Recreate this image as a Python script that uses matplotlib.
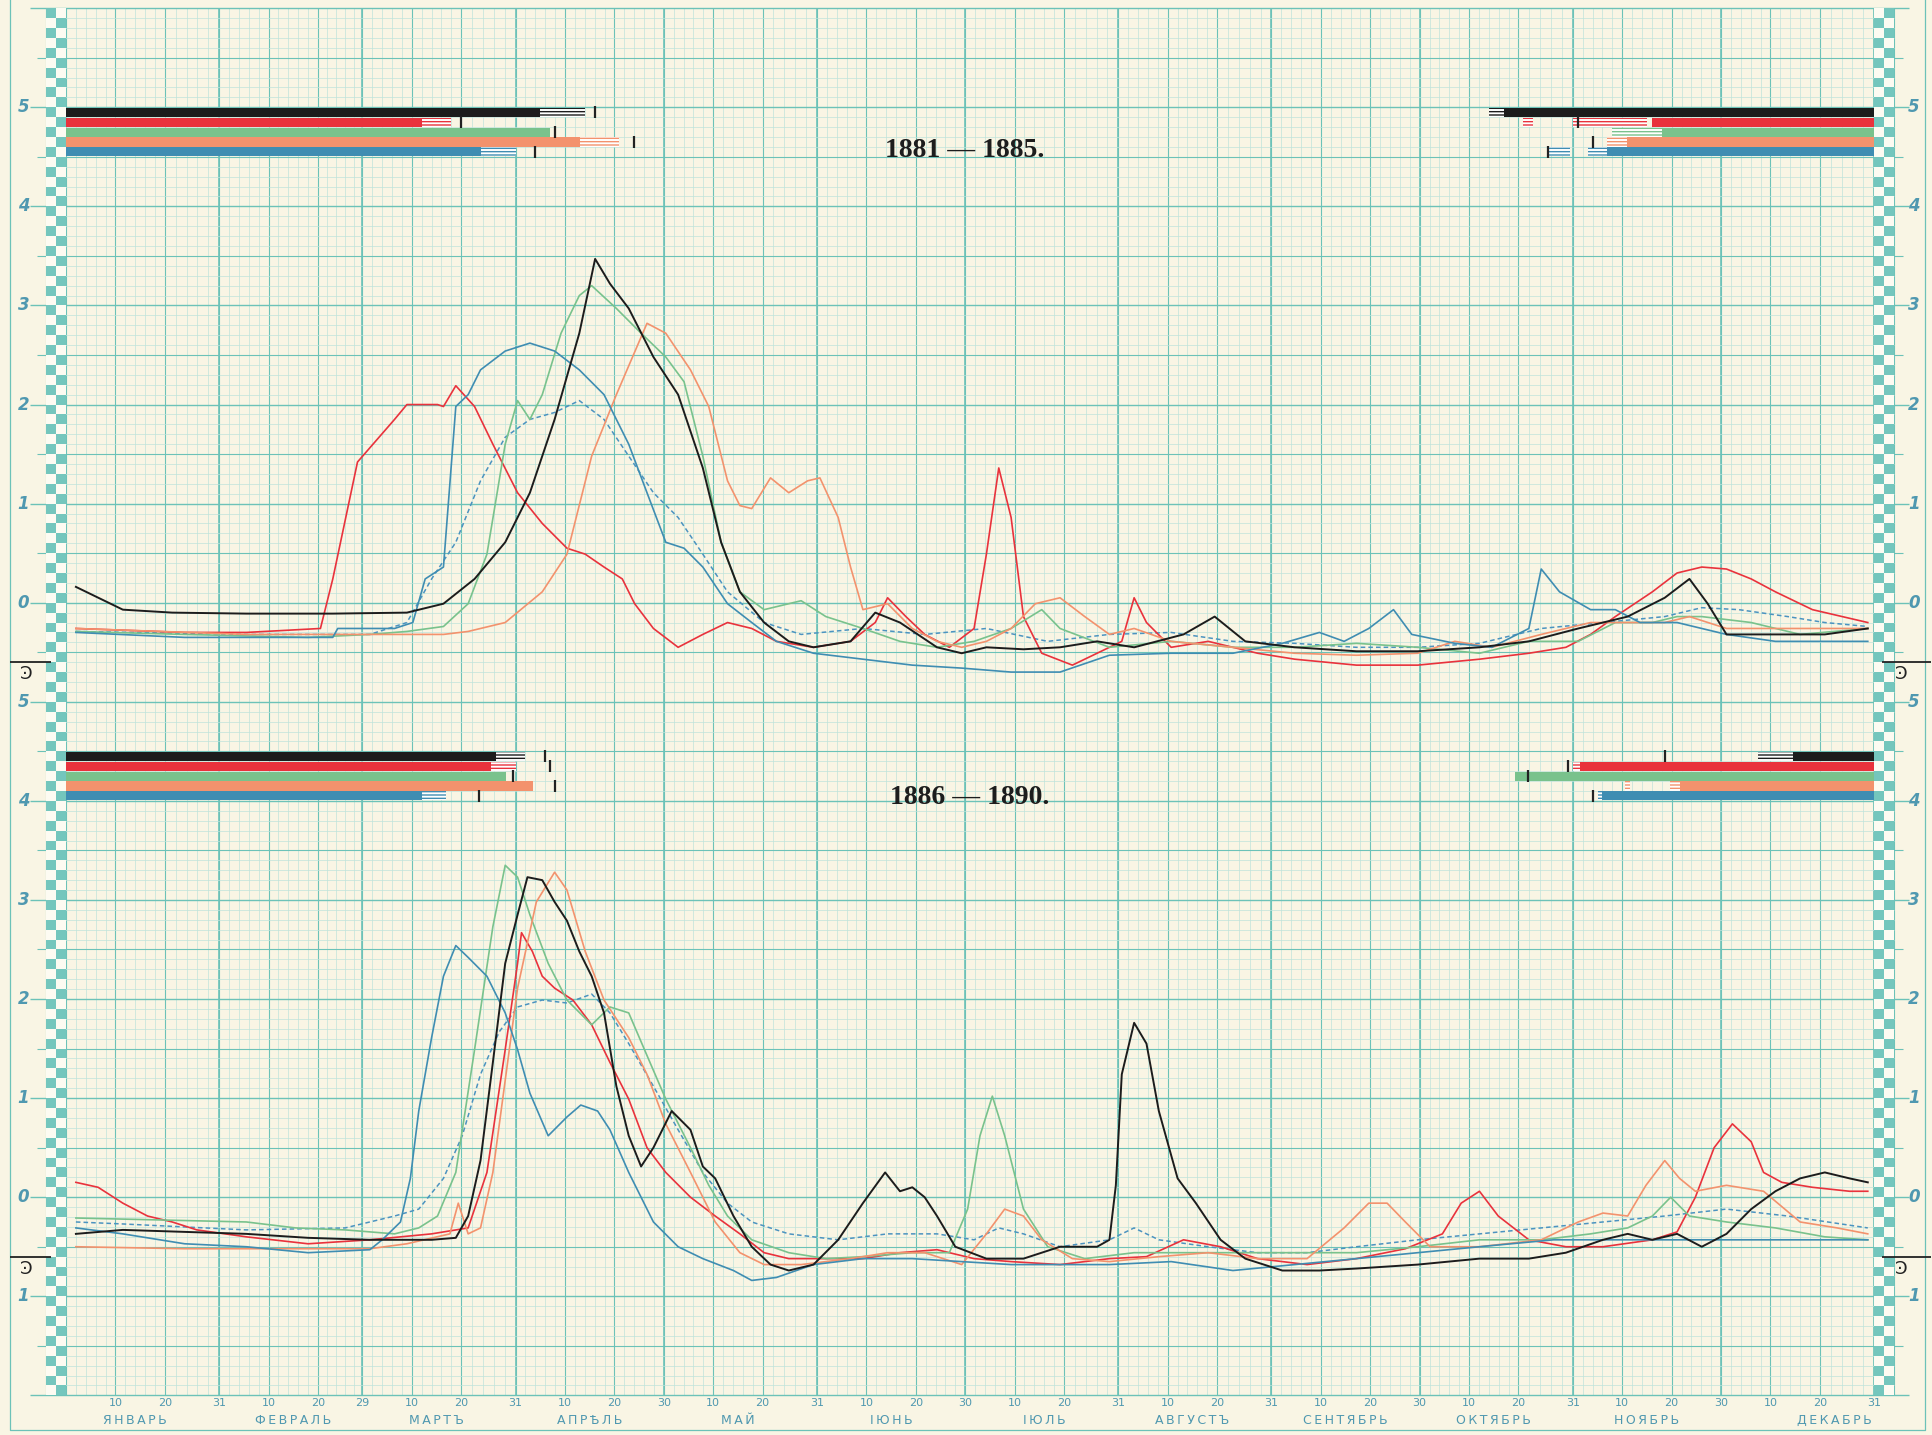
import numpy as np
import matplotlib.pyplot as plt
from matplotlib.colors import ListedColormap

# ==========================================================
# Data  (day of year, value) -- upper panel 1881-1885,
# lower panel 1886-1890 (lower panel is drawn 6 units down)
# ==========================================================

month_names = ["ЯНВАРЬ", "ФЕВРАЛЬ", "МАРТЪ", "АПРѢЛЬ", "МАЙ", "ІЮНЬ",
               "ІЮЛЬ", "АВГУСТЪ", "СЕНТЯБРЬ", "ОКТЯБРЬ", "НОЯБРЬ", "ДЕКАБРЬ"]
month_days = [31, 29, 31, 30, 31, 30, 31, 31, 30, 31, 30, 31]

title_top = "1881 — 1885."
title_bottom = "1886 — 1890."

# ---- upper panel ----
top_black_day = [2, 11.5, 21.5, 36.5, 54, 69, 76.4, 82.7, 88.9, 93.9, 98.9, 103.9, 107.1, 110.1,
                 113.9, 118.9, 123.9, 128.9, 132.6, 136.4, 141.3, 146.3, 151.3, 158.8, 163.8,
                 168.8, 176.3, 181.3, 186.3, 193.8, 201.2, 208.7, 216.2, 226.2, 232.5, 238.7,
                 248.7, 261.2, 273.6, 286.1, 296.1, 306.1, 316.1, 323.6, 328.6, 332.3, 336.1,
                 346, 356, 364.7]
top_black_val = [0.16, -0.07, -0.10, -0.11, -0.11, -0.10, -0.01, 0.24, 0.61, 1.11, 1.85, 2.72,
                 3.47, 3.22, 2.97, 2.48, 2.10, 1.36, 0.61, 0.11, -0.20, -0.39, -0.45, -0.39,
                 -0.10, -0.20, -0.45, -0.51, -0.45, -0.47, -0.45, -0.39, -0.45, -0.32, -0.14,
                 -0.39, -0.45, -0.49, -0.49, -0.45, -0.39, -0.26, -0.14, 0.05, 0.24, -0.01,
                 -0.32, -0.32, -0.32, -0.26]

top_red_day = [2, 24, 36.5, 51.5, 54, 59, 66.5, 69, 75.2, 76.4, 78.9, 82.7, 86.4, 91.4, 96.4,
               101.4, 105.1, 108.9, 112.6, 115.1, 118.9, 123.9, 128.9, 133.9, 138.8, 143.8,
               151.3, 158.8, 163.8, 166.3, 170, 173.8, 178.8, 183.8, 186.3, 188.8, 191.3,
               193.8, 197.5, 203.7, 208.7, 213.7, 216.2, 218.7, 223.7, 231.2, 241.2, 248.7,
               261.2, 273.6, 286.1, 296.1, 303.6, 308.6, 313.6, 321.1, 326.1, 331.1, 336.1,
               341.1, 346, 353.5, 364.7]
top_red_val = [-0.26, -0.30, -0.30, -0.26, 0.24, 1.42, 1.85, 2.00, 2.00, 1.98, 2.19, 1.98, 1.60,
               1.11, 0.80, 0.55, 0.49, 0.36, 0.24, -0.01, -0.26, -0.45, -0.32, -0.20, -0.26,
               -0.39, -0.45, -0.39, -0.20, 0.05, -0.14, -0.32, -0.45, -0.26, 0.49, 1.36, 0.86,
               -0.14, -0.51, -0.63, -0.51, -0.39, 0.05, -0.20, -0.45, -0.39, -0.51, -0.57,
               -0.63, -0.63, -0.57, -0.51, -0.45, -0.32, -0.14, 0.11, 0.30, 0.36, 0.34, 0.24,
               0.11, -0.07, -0.20]

top_green_day = [2, 24, 49, 61.5, 69, 76.4, 81.4, 85.2, 88.9, 91.4, 93.9, 96.4, 100.2, 103.9,
                 106.4, 111.4, 116.4, 121.4, 125.1, 128.9, 132.6, 136.4, 141.3, 148.8, 153.8,
                 161.3, 168.8, 176.3, 183.8, 191.3, 197.5, 201.2, 211.2, 223.7, 236.2, 248.7,
                 261.2, 273.6, 286.1, 296.1, 306.1, 313.6, 321.1, 326.1, 331.1, 341.1, 351,
                 364.7]
top_green_val = [-0.29, -0.32, -0.35, -0.32, -0.29, -0.24, -0.01, 0.49, 1.60, 2.04, 1.85, 2.10,
                 2.72, 3.10, 3.20, 2.97, 2.72, 2.48, 2.23, 1.48, 0.61, 0.11, -0.07, 0.02, -0.14,
                 -0.26, -0.39, -0.45, -0.39, -0.26, -0.07, -0.26, -0.45, -0.39, -0.45, -0.45,
                 -0.41, -0.45, -0.51, -0.39, -0.39, -0.20, -0.20, -0.14, -0.14, -0.20, -0.32,
                 -0.26]

top_orange_day = [2, 36.5, 61.5, 76.4, 81.4, 88.9, 96.4, 101.4, 106.4, 111.4, 117.6, 121.4,
                  126.4, 130.1, 133.9, 136.4, 138.8, 142.6, 146.3, 150.1, 152.6, 156.3, 158.8,
                  161.3, 166.3, 171.3, 176.3, 181.3, 186.3, 191.3, 196.2, 201.2, 206.2, 211.2,
                  216.2, 223.7, 236.2, 248.7, 261.2, 273.6, 281.1, 288.6, 298.6, 308.6, 316.1,
                  323.6, 328.6, 336.1, 346, 356, 364.7]
top_orange_val = [-0.26, -0.32, -0.32, -0.32, -0.29, -0.20, 0.11, 0.49, 1.48, 2.10, 2.82, 2.72,
                  2.35, 1.98, 1.23, 0.98, 0.95, 1.26, 1.11, 1.23, 1.26, 0.86, 0.36, -0.07,
                  -0.01, -0.26, -0.39, -0.45, -0.39, -0.26, -0.01, 0.05, -0.14, -0.32, -0.26,
                  -0.39, -0.45, -0.51, -0.53, -0.51, -0.39, -0.45, -0.32, -0.20, -0.20, -0.20,
                  -0.14, -0.26, -0.26, -0.26, -0.26]

top_blue_day = [2, 24, 54, 55, 61.5, 66.5, 70.2, 72.7, 76.4, 78.9, 81.4, 83.9, 88.9, 93.9,
                98.9, 103.9, 108.9, 113.9, 117.6, 121.4, 125.1, 128.9, 133.9, 138.8, 143.8,
                151.3, 161.3, 171.3, 181.3, 191.3, 201.2, 211.2, 223.7, 236.2, 246.2, 253.7,
                258.7, 263.7, 268.7, 272.4, 281.1, 288.6, 296.1, 298.6, 302.3, 308.6, 313.6,
                318.6, 326.1, 336.1, 346, 364.7]
top_blue_val = [-0.30, -0.35, -0.35, -0.26, -0.26, -0.26, -0.20, 0.24, 0.36, 1.98, 2.10, 2.35,
                2.54, 2.62, 2.54, 2.35, 2.10, 1.60, 1.11, 0.61, 0.55, 0.36, -0.01, -0.20, -0.39,
                -0.51, -0.57, -0.63, -0.66, -0.70, -0.70, -0.53, -0.51, -0.51, -0.41, -0.30,
                -0.39, -0.26, -0.07, -0.32, -0.41, -0.45, -0.26, 0.34, 0.11, -0.07, -0.07,
                -0.20, -0.20, -0.32, -0.39, -0.39]

top_mean_day = [2, 36.5, 61.5, 69, 74, 78.9, 83.9, 88.9, 93.9, 98.9, 103.9, 108.9, 113.9,
                118.9, 123.9, 128.9, 133.9, 141.3, 148.8, 161.3, 173.8, 186.3, 198.7, 211.2,
                223.7, 236.2, 248.7, 261.2, 273.6, 286.1, 298.6, 311.1, 323.6, 331.1, 338.6,
                348.5, 356, 364.7]
top_mean_val = [-0.29, -0.32, -0.32, -0.20, 0.24, 0.61, 1.23, 1.67, 1.85, 1.92, 2.04, 1.85,
                1.48, 1.11, 0.86, 0.49, 0.11, -0.20, -0.32, -0.26, -0.32, -0.26, -0.39, -0.32,
                -0.30, -0.39, -0.41, -0.45, -0.45, -0.41, -0.26, -0.20, -0.14, -0.05, -0.07,
                -0.14, -0.20, -0.24]

# ---- lower panel ----
bot_black_day = [2, 11.5, 36.5, 49, 61.5, 74, 78.9, 81.4, 83.9, 86.4, 88.9, 91.4, 93.4, 96.4,
                 98.9, 101.4, 103.9, 106.4, 108.9, 111.4, 113.9, 116.4, 118.9, 122.6, 126.4,
                 128.9, 131.4, 135.1, 138.8, 142.6, 146.3, 151.3, 156.3, 161.3, 165.8, 168.8,
                 171.3, 173.8, 176.3, 180, 186.3, 193.8, 201.2, 208.7, 211.2, 212.5, 213.7,
                 216.2, 218.7, 221.2, 225, 228.7, 233.7, 238.7, 246.2, 253.7, 261.2, 273.6,
                 286.1, 296.1, 303.6, 311.1, 316.1, 321.1, 326.1, 331.1, 336.1, 341.1, 346,
                 351, 356, 361, 364.7]
bot_black_val = [-0.37, -0.33, -0.37, -0.41, -0.43, -0.43, -0.41, -0.19, 0.37, 1.36, 2.36, 2.85,
                 3.23, 3.20, 2.98, 2.79, 2.48, 2.23, 1.86, 1.12, 0.62, 0.31, 0.50, 0.87, 0.68,
                 0.31, 0.19, -0.19, -0.50, -0.68, -0.74, -0.68, -0.43, -0.06, 0.25, 0.06, 0.10,
                 0.00, -0.19, -0.50, -0.62, -0.62, -0.50, -0.50, -0.43, 0.12, 1.24, 1.76, 1.55,
                 0.87, 0.19, -0.06, -0.43, -0.62, -0.74, -0.74, -0.72, -0.68, -0.62, -0.62,
                 -0.56, -0.43, -0.37, -0.43, -0.37, -0.50, -0.37, -0.12, 0.06, 0.19, 0.25,
                 0.19, 0.15]

bot_red_day = [2, 6.5, 11.5, 16.5, 21.5, 26.5, 36.5, 49, 61.5, 74, 81.4, 85.2, 88.9, 91.4, 92.2,
               94.4, 96.4, 98.9, 102.6, 106.4, 110.1, 113.9, 117.6, 121.4, 126.4, 131.4, 136.4,
               141.3, 146.3, 153.8, 161.3, 168.8, 176.3, 183.8, 191.3, 201.2, 211.2, 218.7,
               226.2, 233.7, 241.2, 251.2, 261.2, 271.1, 278.6, 282.4, 286.1, 289.9, 296.1,
               303.6, 311.1, 321.1, 326.1, 329.8, 333.6, 337.3, 341.1, 343.6, 347.3, 353.5,
               361, 364.7]
bot_red_val = [0.15, 0.10, -0.06, -0.19, -0.25, -0.33, -0.40, -0.47, -0.43, -0.37, -0.31, 0.25,
               1.49, 2.36, 2.67, 2.48, 2.23, 2.11, 1.99, 1.74, 1.36, 0.99, 0.50, 0.25, 0.00,
               -0.19, -0.37, -0.56, -0.62, -0.62, -0.62, -0.56, -0.53, -0.62, -0.65, -0.68,
               -0.62, -0.60, -0.43, -0.50, -0.62, -0.68, -0.62, -0.52, -0.37, -0.06, 0.06,
               -0.19, -0.43, -0.50, -0.50, -0.43, -0.35, 0.00, 0.50, 0.74, 0.56, 0.25, 0.15,
               0.10, 0.06, 0.06]

bot_green_day = [2, 36.5, 46.5, 56.5, 66.5, 71.4, 75.2, 78.9, 82.7, 86.4, 88.9, 91.4, 93.9,
                 97.6, 101.4, 106.4, 110.1, 113.9, 117.6, 121.4, 126.4, 130.1, 133.9, 138.8,
                 146.3, 153.8, 161.3, 171.3, 178.8, 182.5, 185, 187.5, 190, 193.8, 198.7,
                 206.2, 216.2, 226.2, 236.2, 248.7, 261.2, 273.6, 286.1, 298.6, 308.6, 316.1,
                 321.1, 324.8, 328.6, 336.1, 346, 356, 364.7]
bot_green_val = [-0.21, -0.25, -0.31, -0.33, -0.37, -0.31, -0.19, 0.25, 1.49, 2.73, 3.35, 3.23,
                 2.85, 2.36, 1.99, 1.74, 1.92, 1.86, 1.43, 0.99, 0.50, 0.12, -0.19, -0.43,
                 -0.56, -0.62, -0.60, -0.56, -0.56, -0.12, 0.62, 1.02, 0.62, -0.12, -0.50,
                 -0.62, -0.56, -0.56, -0.56, -0.56, -0.56, -0.50, -0.43, -0.43, -0.37, -0.31,
                 -0.19, 0.00, -0.19, -0.25, -0.31, -0.40, -0.43]

bot_orange_day = [2, 24, 61.5, 69, 77.7, 79.4, 81.4, 83.9, 86.4, 91.4, 95.2, 98.9, 101.4, 105.1,
                  108.9, 113.9, 117.6, 121.4, 126.4, 131.4, 136.4, 141.3, 148.8, 158.8, 166.3,
                  173.8, 181.3, 186.3, 190, 193.8, 197.5, 203.7, 211.2, 221.2, 231.2, 241.2,
                  251.2, 258.7, 263.7, 267.4, 271.1, 276.1, 286.1, 298.6, 306.1, 311.1, 316.1,
                  319.8, 323.6, 326.6, 329.8, 336.1, 343.6, 351, 358.5, 364.7]
bot_orange_val = [-0.50, -0.52, -0.52, -0.47, -0.37, -0.06, -0.37, -0.31, 0.25, 2.11, 2.98,
                  3.28, 3.10, 2.48, 1.99, 1.61, 1.24, 0.74, 0.25, -0.25, -0.56, -0.68, -0.68,
                  -0.62, -0.56, -0.56, -0.68, -0.37, -0.12, -0.19, -0.43, -0.62, -0.65, -0.60,
                  -0.56, -0.62, -0.62, -0.31, -0.06, -0.06, -0.25, -0.50, -0.50, -0.43, -0.25,
                  -0.16, -0.19, 0.12, 0.37, 0.19, 0.06, 0.12, 0.06, -0.25, -0.31, -0.37]

bot_blue_day = [2, 11.5, 24, 36.5, 49, 61.5, 64, 67.7, 69.7, 71.4, 74, 76.4, 78.9, 81.4, 85.2,
                88.9, 91.4, 93.9, 97.6, 101.4, 104.2, 107.6, 110.1, 113.9, 118.9, 123.9, 128.9,
                135.1, 138.8, 143.8, 151.3, 161.3, 171.3, 181.3, 191.3, 201.2, 211.2, 223.7,
                236.2, 248.7, 261.2, 273.6, 286.1, 301.1, 326.1, 348.5, 364.7]
bot_blue_val = [-0.31, -0.37, -0.47, -0.50, -0.56, -0.53, -0.43, -0.25, 0.19, 0.87, 1.61, 2.23,
                2.54, 2.42, 2.23, 1.86, 1.49, 1.05, 0.62, 0.81, 0.93, 0.87, 0.68, 0.25, -0.25,
                -0.50, -0.62, -0.74, -0.84, -0.81, -0.68, -0.62, -0.62, -0.65, -0.68, -0.68,
                -0.68, -0.65, -0.74, -0.68, -0.62, -0.56, -0.50, -0.43, -0.43, -0.43, -0.43]

bot_mean_day = [2, 11.5, 36.5, 56.5, 66.5, 71.4, 76.4, 80.2, 83.9, 87.7, 91.4, 96.4, 101.4,
                106.4, 110.1, 113.9, 118.9, 123.9, 128.9, 133.9, 138.8, 146.3, 156.3, 166.3,
                176.3, 183.8, 188.8, 193.8, 201.2, 211.2, 216.2, 221.2, 231.2, 241.2, 251.2,
                261.2, 273.6, 286.1, 298.6, 311.1, 323.6, 336.1, 348.5, 364.7]
bot_mean_val = [-0.25, -0.27, -0.33, -0.31, -0.19, -0.12, 0.19, 0.62, 1.24, 1.67, 1.92, 1.99,
                1.96, 2.05, 1.86, 1.55, 1.12, 0.68, 0.25, -0.06, -0.25, -0.37, -0.43, -0.37,
                -0.37, -0.43, -0.31, -0.37, -0.50, -0.43, -0.31, -0.43, -0.50, -0.56, -0.56,
                -0.50, -0.43, -0.37, -0.31, -0.25, -0.19, -0.12, -0.19, -0.31]

# ---- ice bars (day of year) ----
# spring: solid ice until, drifting ice until, ice-free mark
top_spring_solid = [96, 72, 98, 104, 84]
top_spring_hatch = [105, 78, 98, 112, 91]
top_spring_mark = [107, 80, 99, 115, 95]
# autumn: drifting-ice segments, solid ice from, first-ice mark
top_autumn_hatch = [[(288, 291)], [(295, 297), (305, 320)], [(313, 323)],
                    [(312, 316)], [(300, 304.5), (308, 312)]]
top_autumn_solid = [291, 321, 323, 316, 312]
top_autumn_mark = [None, 306, None, 309, 300]

bot_spring_solid = [87, 86, 89, 94.5, 72]
bot_spring_hatch = [93, 91, 89, 94.5, 77]
bot_spring_mark = [97, 98, 90.5, 99, 83.5]
bot_autumn_hatch = [[(342.5, 349.5)], [(305, 306.5)], [], [(315.5, 316.5), (324.7, 326.6)],
                    [(310, 311)]]
bot_autumn_solid = [349.5, 306.5, 293.3, 326.6, 311]
bot_autumn_mark = [323.7, 304, 296, None, 309]

# ==========================================================
# Style
# ==========================================================

paper = "#f9f5e4"
teal = "#6cc2b8"
teal_light = "#bfe3da"
teal_text = "#4f98b0"
year_colors = ["#1c1c1c", "#e9323c", "#79c28c", "#f3926d", "#3f8db2"]
mean_color = "#4b93c0"

lower_shift = -6.0

fig = plt.figure(figsize=(19.33, 14.35), dpi=100)
fig.patch.set_facecolor(paper)
ax = fig.add_axes([0, 0, 1, 1])
ax.set_facecolor(paper)
ax.set_xlim(-13.36, 377.9)
ax.set_ylim(-8.40, 6.083)
ax.axis("off")

# ==========================================================
# Grid paper
# ==========================================================

month_start = np.concatenate([[0], np.cumsum(month_days)])
major_x = []
for s, n in zip(month_start[:-1], month_days):
    major_x += [s + 10, s + 20, s + n]
end_x = list(month_start[1:])

minor_x = []
prev = 0
for m in major_x:
    minor_x += list(np.linspace(prev, m, 6)[1:-1])
    prev = m

y_low, y_high = -8.0, 6.0
ax.vlines(minor_x, y_low, y_high, color=teal_light, lw=0.5, zorder=1)
ax.vlines(major_x, y_low, y_high, color=teal, lw=0.8, zorder=1)
ax.vlines(end_x, y_low, y_high, color=teal, lw=1.2, zorder=1)
ax.vlines([-4, 0, 366, 370], y_low, y_high, color=teal, lw=0.8, zorder=1)

levels = np.round(np.arange(y_low, y_high + 0.001, 0.1), 2)
minor_y = [v for v in levels if abs(v * 2 - round(v * 2)) > 1e-6]
half_y = [v for v in levels if abs(v * 2 - round(v * 2)) < 1e-6 and abs(v - round(v)) > 1e-6]
int_y = [v for v in levels if abs(v - round(v)) < 1e-6]
ax.hlines(minor_y, -4, 370, color=teal_light, lw=0.5, zorder=1)
ax.hlines(half_y, -5.8, 371.8, color=teal, lw=0.8, zorder=1)
ax.hlines(int_y, -7.3, 373.0, color=teal, lw=1.0, zorder=1)

# checkered border columns
cells = (np.arange(len(levels) - 1)[:, None] + np.arange(2)[None, :]) % 2
check_cmap = ListedColormap(["#fdfbf2", "#74c6bd"])
ax.pcolormesh([-4, -2, 0], levels, cells, cmap=check_cmap, zorder=2)
ax.pcolormesh([366, 368, 370], levels, 1 - cells, cmap=check_cmap, zorder=2)

# outer frame
ax.plot([-11.3, -11.3, 376.3, 376.3], [6.2, -8.35, -8.35, 6.2], color=teal, lw=0.9, zorder=1)

# ==========================================================
# Axis labels
# ==========================================================

label_kw = dict(color=teal_text, fontsize=12, style="italic", weight="bold",
                va="center", ha="center", zorder=5)
for k in range(6):
    ax.text(-8.6, k, str(k), **label_kw)
    ax.text(374.0, k, str(k), **label_kw)
    ax.text(-8.6, k + lower_shift, str(k), **label_kw)
    ax.text(374.0, k + lower_shift, str(k), **label_kw)
ax.text(-8.6, -1 + lower_shift, "1", **label_kw)
ax.text(374.0, -1 + lower_shift, "1", **label_kw)

# zero marks of the gauge
for shift in [0, lower_shift]:
    ax.hlines(-0.6 + shift, -11.3, -3.0, color="#222222", lw=1.3, zorder=6)
    ax.hlines(-0.6 + shift, 367.5, 377.5, color="#222222", lw=1.3, zorder=6)
    ax.text(-8.0, -0.72 + shift, "Ͽ", fontsize=13, color="#222222", ha="center",
            va="center", zorder=6)
    ax.text(371.5, -0.72 + shift, "Ͽ", fontsize=13, color="#222222", ha="center",
            va="center", zorder=6)

# month axis
for s, n, name in zip(month_start[:-1], month_days, month_names):
    for d, txt in [(10, "10"), (20, "20"), (n, str(n))]:
        ax.text(s + d, -8.08, txt, color=teal_text, fontsize=8, ha="center",
                va="center")
name_x = [14, 46, 75, 106, 136, 167, 198, 228, 259, 289, 320, 358]
for x, name in zip(name_x, month_names):
    ax.text(x, -8.25, "\u2009".join(name), color=teal_text, fontsize=9,
            ha="center", va="center")

# titles
ax.text(182, 4.56, title_top, fontsize=20, weight="bold", family="Liberation Serif",
        ha="center", va="center", color="#1d1d1d", zorder=6)
ax.text(183, 4.03 + lower_shift, title_bottom, fontsize=20, weight="bold",
        family="Liberation Serif", ha="center", va="center", color="#1d1d1d", zorder=6)

# ==========================================================
# Ice bars
# ==========================================================


def draw_bars(base, solid, hatch, mark, a_hatch, a_solid, a_mark):
    for i, c in enumerate(year_colors):
        y = base - 0.05 - 0.1 * i
        ax.barh(y, solid[i], left=0, height=0.092, color=c, zorder=4)
        if hatch[i] > solid[i]:
            ax.barh(y, hatch[i] - solid[i], left=solid[i], height=0.092,
                    facecolor="white", edgecolor=c, hatch="-----", lw=0, zorder=4)
        ax.vlines(mark[i], y - 0.06, y + 0.06, color="#222222", lw=1.6, zorder=5)
        for a, b in a_hatch[i]:
            ax.barh(y, b - a, left=a, height=0.092, facecolor="white", edgecolor=c,
                    hatch="-----", lw=0, zorder=4)
        ax.barh(y, 366 - a_solid[i], left=a_solid[i], height=0.092, color=c, zorder=4)
        if a_mark[i] is not None:
            ax.vlines(a_mark[i], y - 0.06, y + 0.06, color="#222222", lw=1.6, zorder=5)


draw_bars(5.0, top_spring_solid, top_spring_hatch, top_spring_mark,
          top_autumn_hatch, top_autumn_solid, top_autumn_mark)
draw_bars(4.5 + lower_shift, bot_spring_solid, bot_spring_hatch, bot_spring_mark,
          bot_autumn_hatch, bot_autumn_solid, bot_autumn_mark)

# ==========================================================
# Water level curves
# ==========================================================

top_series = [(top_black_day, top_black_val), (top_red_day, top_red_val),
              (top_green_day, top_green_val), (top_orange_day, top_orange_val),
              (top_blue_day, top_blue_val)]
bot_series = [(bot_black_day, bot_black_val), (bot_red_day, bot_red_val),
              (bot_green_day, bot_green_val), (bot_orange_day, bot_orange_val),
              (bot_blue_day, bot_blue_val)]

for shift, series, mean in [(0, top_series, (top_mean_day, top_mean_val)),
                            (lower_shift, bot_series, (bot_mean_day, bot_mean_val))]:
    ax.plot(mean[0], np.array(mean[1]) + shift, color=mean_color, lw=1.1,
            linestyle=(0, (3, 2)), zorder=6)
    for (d, v), c in zip(series, year_colors):
        ax.plot(d, np.array(v) + shift, color=c, lw=1.4 if c == year_colors[0] else 1.2,
                zorder=7 if c == year_colors[0] else 6)

plt.savefig("out.png", dpi=100, facecolor=paper)
